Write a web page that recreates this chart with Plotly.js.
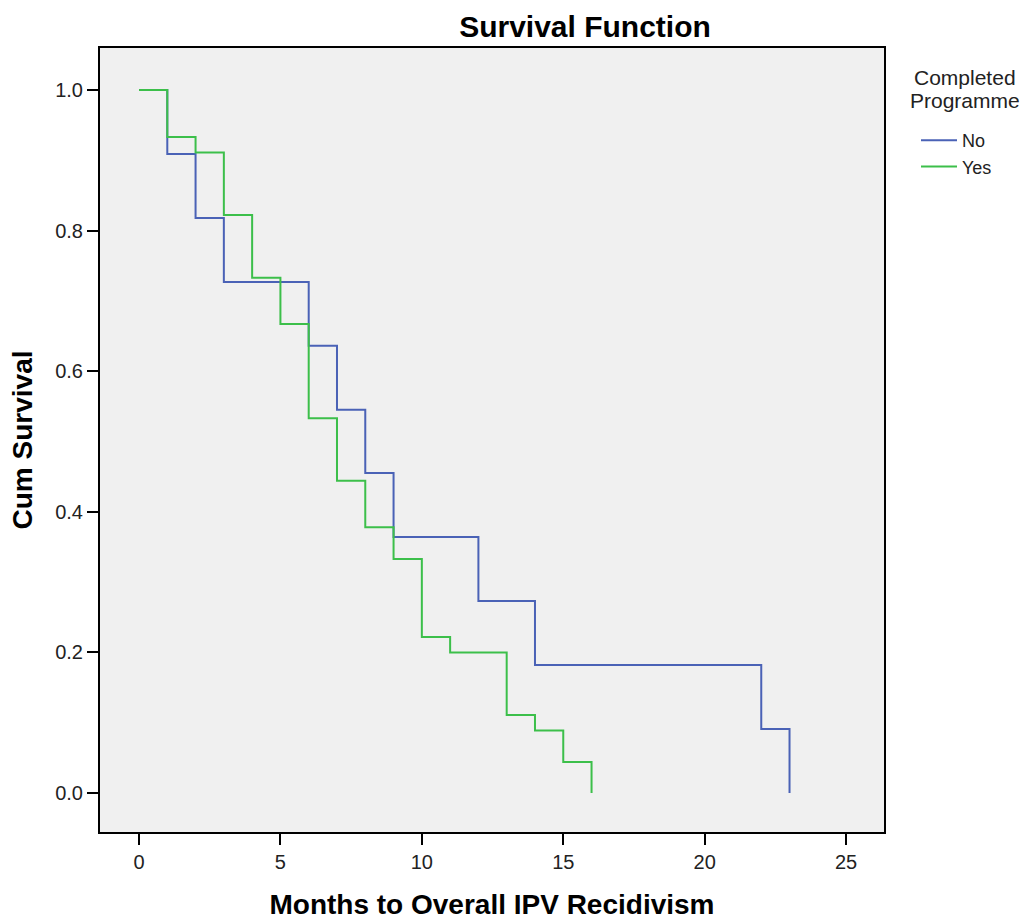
<!DOCTYPE html>
<html><head><meta charset="utf-8">
<script src="https://cdn.plot.ly/plotly-3.0.1.min.js"></script>
<style>body{margin:0;background:#fff}#chart{width:1032px;height:922px}</style>
</head><body><div id="chart"></div>
<script>
const monthsNo = [0, 1, 2, 3, 6, 7, 8, 9, 12, 14, 22, 23];
const survivalNo = [1.0, 0.909, 0.818, 0.727, 0.636, 0.545, 0.455, 0.364, 0.273, 0.182, 0.091, 0.0];
const monthsYes = [0, 1, 2, 3, 4, 5, 6, 7, 8, 9, 10, 11, 13, 14, 15, 16];
const survivalYes = [1.0, 0.933, 0.911, 0.822, 0.733, 0.667, 0.533, 0.444, 0.378, 0.333, 0.222, 0.2, 0.111, 0.089, 0.044, 0.0];
const groupNames = ["No", "Yes"];
const legendTitleLines = ["Completed", "Programme"];
const xTicks = [0, 5, 10, 15, 20, 25];
const yTicks = [0.0, 0.2, 0.4, 0.6, 0.8, 1.0];

const font = "Liberation Sans, Arial, sans-serif";
const traces = [
  {x: monthsNo, y: survivalNo, name: groupNames[0], mode: "lines",
   line: {shape: "hv", color: "#4a62b6", width: 2}},
  {x: monthsYes, y: survivalYes, name: groupNames[1], mode: "lines",
   line: {shape: "hv", color: "#3cbf4a", width: 2}}
];
// pixel -> paper helpers for the legend title placement
const L = 100, R = 884, T = 48, B = 832;
const px = v => (v - L) / (R - L);
const py = v => (B - v) / (B - T);
const layout = {
  width: 1032, height: 922,
  margin: {l: 100, r: 148, t: 48, b: 90},
  paper_bgcolor: "#ffffff", plot_bgcolor: "#f0f0f0",
  font: {family: font, color: "#000", size: 20},
  title: {text: "<b>Survival Function</b>", font: {size: 30, family: font},
          x: px(585), xref: "paper", xanchor: "center", y: 1 - 26 / 922, yref: "container", yanchor: "middle"},
  xaxis: {range: [-1.379, 26.34], tickvals: xTicks, ticktext: xTicks.map(String),
          ticks: "outside", ticklen: 11, tickwidth: 1.5, tickcolor: "#000",
          showline: true, linecolor: "#000", linewidth: 2, mirror: true,
          showgrid: false, zeroline: false, tickfont: {size: 20, color: "#222"},
          title: {text: "<b>Months to Overall IPV Recidivism</b>", font: {size: 28}, standoff: 22}},
  yaxis: {range: [-0.0555, 1.0597], tickvals: yTicks, ticktext: yTicks.map(v => v.toFixed(1)),
          ticks: "outside", ticklen: 11, tickwidth: 1.5, tickcolor: "#000",
          showline: true, linecolor: "#000", linewidth: 2, mirror: true,
          showgrid: false, zeroline: false, tickfont: {size: 20, color: "#222"},
          title: {text: "<b>Cum Survival</b>", font: {size: 28}, standoff: 14}},
  legend: {x: px(916), xanchor: "left", y: py(122), yanchor: "top",
           font: {size: 18, color: "#222"}, bgcolor: "rgba(0,0,0,0)", itemwidth: 36, tracegroupgap: 0},
  annotations: [
    {text: legendTitleLines[0], xref: "paper", yref: "paper", x: px(965), y: py(78),
     xanchor: "center", yanchor: "middle", showarrow: false, font: {size: 21, color: "#222"}},
    {text: legendTitleLines[1], xref: "paper", yref: "paper", x: px(965), y: py(101),
     xanchor: "center", yanchor: "middle", showarrow: false, font: {size: 21, color: "#222"}}
  ],
  showlegend: true
};
Plotly.newPlot("chart", traces, layout, {displayModeBar: false});
</script></body></html>
